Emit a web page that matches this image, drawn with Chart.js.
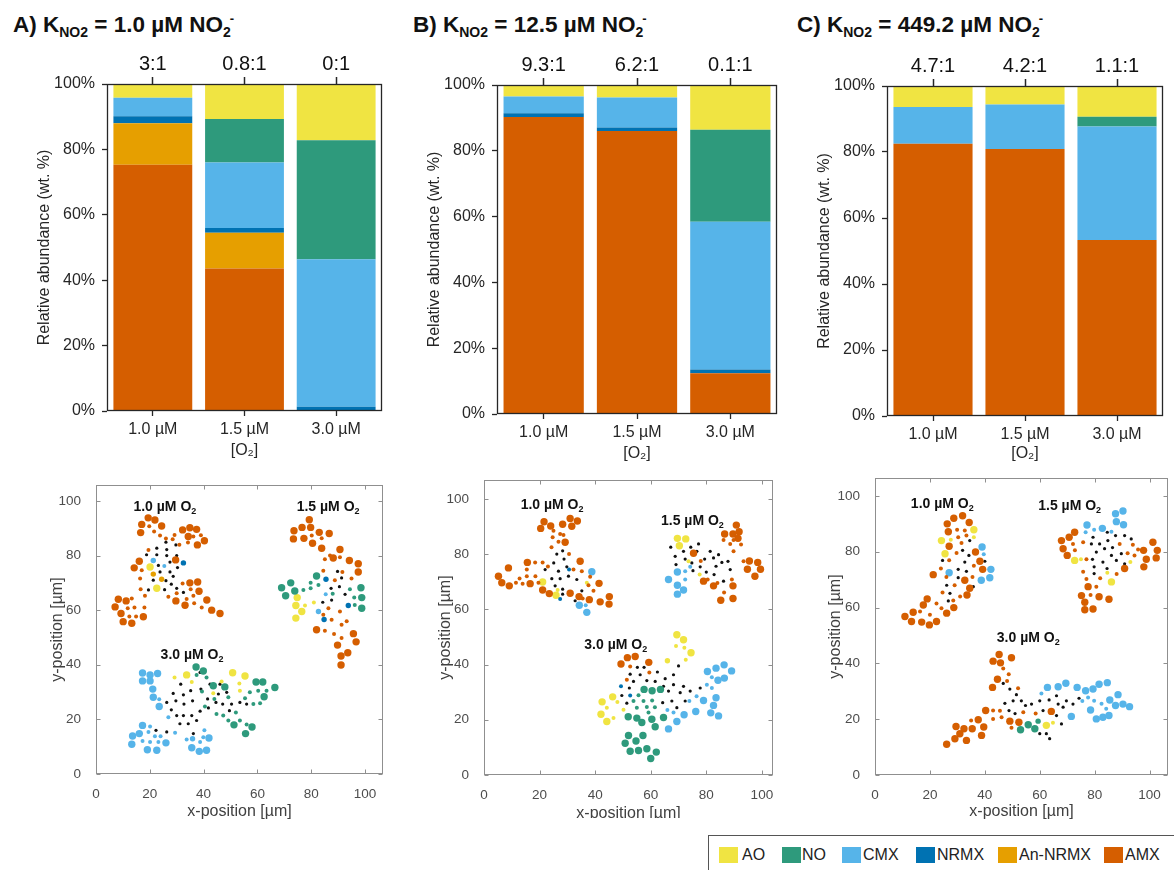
<!DOCTYPE html>
<html>
<head>
<meta charset="utf-8">
<script src="https://cdn.jsdelivr.net/npm/chart.js@4.4.1/dist/chart.umd.min.js"></script>
<style>
  body { margin: 0; background: #fff; font-family: 'Liberation Sans', Arial, sans-serif; }
  #page { position: relative; width: 1174px; height: 870px; overflow: hidden; background: #fff; }
  .ttl { position: absolute; top: 14px; font-weight: bold; font-size: 22.5px; line-height: 22px; color: #111; white-space: nowrap; }
  .ttl .lo { font-size: 14px; position: relative; top: 5px; }
  .ttl .hi { font-size: 13px; position: relative; top: -9px; margin-left: -1px; }
  .wrap { position: absolute; overflow: hidden; }
  .legend { position: absolute; left: 708px; top: 835px; width: 480px; height: 50px; border: 1px solid #555; }
  .sw { position: absolute; top: 847px; width: 19px; height: 16px; }
  .lt { position: absolute; top: 846px; font-size: 16px; line-height: 18px; color: #222; }
</style>
</head>
<body>
<div id="page">
  <div class="ttl" style="left:13px">A) K<span class="lo">NO2</span> = 1.0 µM NO<span class="lo">2</span><span class="hi">-</span></div>
  <div class="ttl" style="left:413px">B) K<span class="lo">NO2</span> = 12.5 µM NO<span class="lo">2</span><span class="hi">-</span></div>
  <div class="ttl" style="left:797px">C) K<span class="lo">NO2</span> = 449.2 µM NO<span class="lo">2</span><span class="hi">-</span></div>

  <div class="wrap" style="left:20px;top:40px;width:370px;height:425px"><canvas id="barA" width="370" height="425"></canvas></div>
  <div class="wrap" style="left:410px;top:40px;width:375px;height:425px"><canvas id="barB" width="375" height="425"></canvas></div>
  <div class="wrap" style="left:800px;top:40px;width:370px;height:425px"><canvas id="barC" width="370" height="425"></canvas></div>

  <div class="wrap" style="left:40px;top:470px;width:350px;height:352px"><canvas id="mapA" width="350" height="352"></canvas></div>
  <div class="wrap" style="left:425px;top:465px;width:355px;height:353px"><canvas id="mapB" width="355" height="358"></canvas></div>
  <div class="wrap" style="left:815px;top:463px;width:359px;height:358px"><canvas id="mapC" width="359" height="358"></canvas></div>

  <div class="legend"></div>
  <div id="legendItems"></div>
</div>

<script>
// ---- community composition (wt. %) per O2 level ----
const o2Levels = ['1.0 µM', '1.5 µM', '3.0 µM'];
const ratiosA = ['3:1', '0.8:1', '0:1'];
const ratiosB = ['9.3:1', '6.2:1', '0.1:1'];
const ratiosC = ['4.7:1', '4.2:1', '1.1:1'];

const amxA  = [75.3, 43.6, 0];
const anA   = [12.7, 10.9, 0];
const nrmxA = [2.1, 1.5, 1.3];
const cmxA  = [5.7, 20.0, 45.1];
const noA   = [0, 13.3, 36.4];
const aoA   = [4.2, 10.7, 17.2];

const amxB  = [90.3, 86.0, 12.4];
const anB   = [0, 0, 0];
const nrmxB = [1.1, 1.1, 1.1];
const cmxB  = [5.1, 9.1, 44.9];
const noB   = [0, 0, 28.0];
const aoB   = [3.5, 3.8, 13.6];

const amxC  = [82.5, 80.9, 53.3];
const anC   = [0, 0, 0];
const nrmxC = [0, 0, 0];
const cmxC  = [11.1, 13.5, 34.4];
const noC   = [0, 0, 3.0];
const aoC   = [6.4, 5.6, 9.3];

const legendNames = ['AO', 'NO', 'CMX', 'NRMX', 'An-NRMX', 'AMX'];

// ---- granule snapshots: [type, x µm, y µm, size class] ----
// R=AMX, A=An-NRMX, N=NRMX, C=CMX, G=NO, Y=AO, K=inert
const cellsA = [
  // 1.0 µM O2
  ['R',19.4,93.8,3],['R',21.9,93,3],['R',17,91.4,3],['R',24.4,90.8,3],['R',16.6,88.4,3],['R',32.2,89.4,3],['R',34.9,90.2,3],
  ['R',37.4,89.6,3],['R',34.3,87,3],['R',40.3,85.4,3],['R',37.7,83.9,3],['R',29.6,78.4,3],['R',16.1,77.9,3],['R',14.2,75.5,3],
  ['R',37.8,70.3,3],['R',34.9,70,3],['R',38.3,66.9,3],['R',8.3,64,3],['R',11.2,63.4,3],['R',41.2,63.7,3],['R',7.1,61.2,3],
  ['R',9.3,58.8,3],['R',10.1,55.8,3],['R',13.3,55.2,3],['R',17.6,57.6,3],['R',29.7,63.4,3],['R',33.1,61.8,3],['R',43,60,3],['R',46.1,58.8,3],
  ['R',19.8,90.7,1],['R',21.6,88.8,1],['R',23.8,87.3,1],['R',26,86.2,1],['R',29.2,87.5,1],['R',36.2,87,1],['R',39,87.4,1],
  ['R',34.2,84.8,1],['R',31,84,1],['R',17,74.6,1],['R',16.4,71.6,1],['R',16.6,67.7,1],['R',18.2,65.3,1],['R',18,61,1],
  ['R',13.3,64.3,1],['R',11.8,60.7,1],['R',14.3,61,1],['R',12.4,57.7,1],['R',14.9,57.7,1],['R',26.9,64.9,1],['R',30,66.2,1],
  ['R',32.2,69.8,1],['R',35.2,67.7,1],['R',36.2,65.3,1],['R',33.7,64.1,1],['R',36.5,62.5,1],['R',39.3,61,1],['R',19.5,82,1],['R',28.5,86,1],
  ['K',26,84.9,1],['K',29.7,83.9,1],['K',22.6,82.7,1],['K',26.3,82.2,1],['K',18.8,80.3,1],['K',22.6,80.3,1],['K',26.3,80,1],
  ['K',30,80,1],['K',16.4,77.6,1],['K',23.2,76.4,1],['K',27.5,77.6,1],['K',30.3,75.6,1],['K',23.8,74,1],['K',27.5,74,1],
  ['K',28.7,72.4,1],['K',21.3,71,1],['K',26,70.8,1],['K',28,69.5,1],['K',19.5,67.4,1],['K',25.5,67.5,1],['K',30,68,1],['K',32.5,66.5,1],
  ['C',21.3,78.2,2],['C',25.4,76.2,1],['Y',20.1,75.8,3],['Y',22.6,68,3],['N',32.5,77.3,2],['A',21.3,73.2,2],['A',24.4,71.3,2],
  // 1.5 µM O2
  ['R',79.3,93.1,3],['R',76.6,90.3,3],['R',79.8,90.3,3],['R',73.6,89.1,3],['R',83,88.5,3],['R',86.7,88.1,3],['R',73.4,86.1,3],
  ['R',77.3,86.3,3],['R',80.5,84.5,3],['R',83.9,82.7,3],['R',90.7,82.2,3],['R',88.2,79.1,3],['R',94.2,78.2,3],['R',97.5,77,3],
  ['R',97.5,74,3],['R',82,52.8,3],['R',95.7,51.4,3],['R',96.7,48.4,3],['R',89.8,47.2,3],['R',93.6,44.4,3],['R',91.1,43.2,3],['R',91.1,39.9,3],
  ['R',80.2,87.3,1],['R',83.9,86.3,1],['R',87,80,1],['R',85.1,78.6,1],['R',90.7,79.4,1],['R',84.5,74.4,1],['R',91.6,74,1],
  ['R',95,71.6,1],['R',88.8,71,1],['R',85.1,52.5,1],['R',91.3,54.7,1],['R',88.5,51.3,1],['R',91.3,49.8,1],['R',84.5,58.3,1],
  ['R',87.6,56.5,1],['R',93.2,55.9,1],['R',86.4,60.7,1],['R',90.7,59.5,1],
  ['G',69,68.2,3],['G',72.4,70,3],['G',70.5,65.3,3],['G',73.9,67,3],['G',82,72.5,3],['G',98.5,68.2,3],['G',98.8,64.6,3],['G',98.8,60.7,3],
  ['G',77.1,67.4,1],['G',79.8,68,1],['G',79.8,70,1],['G',82.7,69.2,1],['G',94.4,67.7,1],['G',96.2,61.9,1],['G',96,64.6,1],['G',88,66,1],
  ['Y',74.8,64.6,3],['Y',74.3,61.7,3],['Y',76.5,59.5,3],['Y',74.3,57.1,3],['Y',77.7,61.7,1],['Y',81,62.8,1],
  ['N',85.5,71.3,2],['N',93.8,61.7,2],['N',84.8,56.6,2],['C',85.4,65.8,1],['C',82.7,59.5,2],
  ['K',89.8,74.2,1],['K',91.3,71.8,1],['K',87.4,68,1],['K',90.5,68.6,1],['K',92.6,65.8,1],['K',87.6,63.7,1],['K',84.3,62.9,1],
  // 3.0 µM O2
  ['C',17.3,37,3],['C',20.1,36.3,3],['C',22.9,36.8,3],['C',17.3,34.1,3],['C',20.1,34.1,3],['C',21.1,31.1,3],['C',21.3,28.1,3],
  ['C',23.5,24.7,3],['C',17.3,17.8,3],['C',16.1,14.8,3],['C',13.6,13.9,3],['C',13.3,10.9,3],['C',19.1,8.9,3],['C',22.6,8.7,3],
  ['C',26,11.4,3],['C',35.6,9.6,3],['C',38.4,8.3,3],['C',41.1,8.7,3],['C',42,13.2,3],
  ['C',23.5,27.4,1],['C',26.9,20.8,1],['C',29.4,15.1,1],['C',20.1,17.4,1],['C',19.5,15.4,1],['C',21.9,13.8,1],['C',24,13.8,1],
  ['C',20.1,11.7,1],['C',23.2,11.7,1],['C',17.3,12.1,1],['C',33.7,12.6,1],['C',38.7,11.7,1],['C',40.3,16,1],['C',39.9,13.5,1],['C',35.9,12.9,2],
  ['K',26.3,26.2,1],['K',28.7,29.5,1],['K',31.5,32.9,1],['K',29.7,26.8,1],['K',32.5,29,1],['K',35.2,30.5,1],['K',32.7,25.6,1],
  ['K',35.9,26.8,1],['K',30,21.4,1],['K',32.5,21.4,1],['K',35.6,21.4,1],['K',38.7,23,1],['K',31.2,18.4,1],['K',34.3,18.4,1],
  ['K',37.4,19.6,1],['K',36.2,14.8,1],['K',22.3,16,1],['K',26.3,15.4,1],['K',38.7,37.2,1],['K',42.4,32.9,1],['K',45.5,29.3,1],
  ['K',46.1,32.9,1],['K',48.6,29.9,1],['K',44.6,26.2,1],['K',47.1,25.6,1],['K',50.4,25.6,1],['K',53.5,26.2,1],['K',56,25.6,1],
  ['K',49.6,23.2,1],['K',39,31.1,1],['K',28,23.5,1],['K',41.5,27.5,1],['K',41.8,24.2,1],
  ['G',37.2,39.2,3],['G',39.9,37.7,3],['G',47.9,31.9,3],['G',59.5,33.7,3],['G',62,33.7,3],['G',66.5,31.7,3],['G',62.5,28.3,3],
  ['G',58,17.2,3],['G',55.6,14.8,3],['G',51.3,18,3],['G',43.6,32.3,3],
  ['G',37.4,36.3,1],['G',41.1,35.3,1],['G',39.4,30.2,1],['G',40.5,24.7,1],['G',44.8,22,1],['G',47.3,21.4,1],['G',49.2,19.6,1],
  ['G',53.5,19.6,1],['G',56,18.1,1],['G',49.2,28.1,1],['G',55.4,27.7,1],['G',57.2,29.9,1],['G',60.3,30.5,1],['G',63.4,30.5,1],
  ['G',58.5,25.6,1],['G',61,25.9,1],['G',52,22.5,1],['G',44,27.5,1],
  ['Y',33.7,36.3,3],['Y',50.8,37.1,3],['Y',55.4,35.9,3],['Y',29.2,35.3,1],['Y',35.6,33.7,1],['Y',46.7,33.9,1],['Y',53.3,33.1,1],
  ['Y',53.5,30.5,1],['Y',43.6,29.6,1]
];

const cellsB = [
  // 1.0 µM O2
  ['R',21.6,91.7,3],['R',20.4,89.3,3],['R',24,90.2,3],['R',28.3,90.8,3],['R',31,92.9,3],['R',31.6,90.1,3],['R',33.6,92,3],
  ['R',29.2,84.3,3],['R',34.6,77.4,3],['R',41.4,69.4,3],['R',37.9,63.5,3],['R',41.8,62.7,3],['R',45,61.9,3],['R',45.1,64.6,3],
  ['R',34.2,64.6,3],['R',31,65.8,3],['R',5.2,72,3],['R',6.4,69.6,3],['R',8.8,75,3],['R',9.1,68.5,3],['R',15.6,77,3],
  ['R',16.6,69.3,3],['R',21.1,67,3],['R',23.5,65.7,3],
  ['R',25,88.5,1],['R',27.4,87.3,1],['R',24.7,86.1,1],['R',28.6,86.9,1],['R',26.8,84.5,1],['R',24.3,82.5,1],['R',21.1,77,1],
  ['R',30.6,80,1],['R',32.2,74.4,1],['R',35.2,73.8,1],['R',38.2,71.8,1],['R',37.6,68.7,1],['R',39.4,66.7,1],['R',35.5,63.9,1],
  ['R',11.5,69.6,1],['R',12.8,71.2,1],['R',15.4,72,1],['R',13.9,69.3,1],['R',18.4,77,1],['R',15.4,74.4,1],['R',19.6,69.6,1],
  ['R',23,75.5,1],['R',18.5,72,1],
  ['K',26.2,80,1],['K',28.3,81.2,1],['K',28.8,78.2,1],['K',22,74.4,1],['K',25.1,76.8,1],['K',26.8,73.8,1],['K',29.8,75.4,1],
  ['K',24.4,71.1,1],['K',27.4,71.1,1],['K',30.4,72,1],['K',33.4,70.8,1],['K',25.6,68.5,1],['K',28.3,67.3,1],['K',35.2,66.7,1],
  ['K',28.3,65.5,1],['K',32.8,63.1,1],
  ['Y',21.1,69.9,3],['Y',25.9,65.1,3],['Y',26.5,67,1],['Y',37,69.6,1],['N',27.4,63.7,1],['N',30.6,74.4,1],
  ['C',38.8,73.6,3],['C',34.3,61.5,3],['C',37,58.9,3],['C',36.6,61.5,1],
  // 1.5 µM O2
  ['Y',69.6,85.7,3],['Y',72.6,85.5,3],['Y',70.3,83,3],['Y',73.6,77.4,1],['Y',77.6,72.6,1],
  ['K',67.2,82.5,1],['K',71.8,81,1],['K',74.4,82.5,1],['K',77.2,83.7,1],['K',76.6,81,1],['K',79.4,78.2,1],['K',81.4,81,1],
  ['K',82.6,78.6,1],['K',84.4,79.8,1],['K',85.6,77,1],['K',87.8,77.4,1],['K',88.6,74.4,1],['K',68.8,79.2,1],['K',69.1,76.2,1],
  ['K',72.4,78.2,1],['K',74.8,76.8,1],['K',75.2,74,1],['K',77.8,75.4,1],['K',80,73.5,1],['K',83.5,75.6,1],['K',82.8,72.6,1],['K',86.2,70.2,1],
  ['R',75.4,80.3,3],['R',79,70.2,3],['R',82.6,68.5,3],['R',89.6,68.5,3],['R',89.6,63.9,3],['R',85.2,63.3,3],['R',86.6,87.3,3],
  ['R',89.6,87.3,3],['R',90.8,90.5,3],['R',91.8,88.1,3],['R',91.4,85.7,3],['R',95.5,77.5,3],['R',94.8,74.5,3],['R',98.5,77,3],
  ['R',99.5,74.5,3],['R',97.5,72,3],
  ['R',89.2,70.8,1],['R',86.4,66.1,1],['R',89.8,85.1,1],['R',88.6,83.7,1],['R',86.2,85.1,1],['R',89.8,81,1],['R',93.4,77.4,1],
  ['R',92.5,83.5,1],['R',78,77.5,1],['R',80.5,70.8,1],['R',84,69.5,1],
  ['C',66.4,70.8,3],['C',69.6,73.5,3],['C',69.6,68.7,3],['C',71.8,67,3],['C',69.6,65.5,3],['C',72.4,73.8,1],['C',74.2,75.4,1],['C',72.4,70.8,1],
  // 3.0 µM O2
  ['Y',69.4,50.8,3],['Y',71.8,49,3],['Y',74.5,44.3,3],['Y',42.5,26.5,3],['Y',46.3,28.3,3],['Y',42.1,22,3],['Y',44.2,19.4,3],
  ['Y',66,41.4,2],['Y',69.1,46.7,1],['Y',72.1,46.1,1],['Y',72.6,41.7,1],['Y',44.2,24.4,1],['Y',48,26.4,1],['Y',50.2,23.6,1],['Y',46.6,20.6,1],
  ['R',49.3,40.2,3],['R',51.6,42.5,3],['R',54.4,42.9,3],['R',59.3,40.8,3],['R',52.6,39.3,1],['R',51.4,34.5,1],['R',59.5,37.1,1],
  ['K',55.2,39,1],['K',57.6,39,1],['K',52.6,36.5,1],['K',56.2,36.3,1],['K',53.8,33.9,1],['K',58.6,34.2,1],['K',62.4,37.3,1],
  ['K',65.2,34.9,1],['K',68.2,36.3,1],['K',70,39.5,1],['K',61.6,33.9,1],['K',64.6,32.1,1],['K',68.2,32.7,1],['K',71.8,32.1,1],
  ['K',66.4,30.4,1],['K',70.6,29.8,1],['K',74.2,30.4,1],['K',77.8,31.5,1],['K',52.3,31.5,1],['K',49.6,28.8,1],['K',51.4,26,1],
  ['K',64.3,26.2,1],['K',67.6,26.8,1],['K',72.4,26.8,1],['K',69.4,24.4,1],
  ['N',49.3,32.1,1],['N',52.6,28.8,1],
  ['G',60.5,30.5,3],['G',63.5,31,3],['G',57.6,31,3],['G',51.9,21.1,3],['G',55,20.6,3],['G',60.4,20.2,3],['G',64.6,20.8,3],
  ['G',61.6,17.5,3],['G',56.8,19,3],['G',52,14.3,3],['G',50.8,11.5,3],['G',54.7,12.3,3],['G',57.2,14.3,3],['G',52.6,8.6,3],
  ['G',55.6,8.9,3],['G',58.6,9.5,3],['G',62,8.3,3],['G',60,6,3],
  ['G',55.6,28.9,1],['G',53.8,26.8,1],['G',57.4,26.8,1],['G',55,24.4,1],['G',58.6,24.6,1],['G',59.2,22.6,1],['G',61.5,24.5,1],['G',60.5,27,1],
  ['C',80.4,37.5,3],['C',83.5,38.7,3],['C',86.4,39.9,3],['C',89.1,37.7,3],['C',86.5,35.1,3],['C',84.2,34.3,3],['C',83.5,28,3],
  ['C',79,27,3],['C',82.6,25.2,3],['C',84.4,21.4,3],['C',81.6,22.5,3],['C',76.2,23,3],['C',72,21.8,3],['C',69.4,19.4,3],['C',66.4,16.7,3],
  ['C',82,35.4,1],['C',80.2,32.7,1],['C',82,31.5,1],['C',73.9,26.8,1],['C',68.2,22.6,1],['C',66,23.5,1],['C',76.5,28.5,1]
];

const cellsC = [
  // 1.0 µM O2
  ['R',28.7,92,3],['R',31.9,92.9,3],['R',26.3,90,3],['R',34.3,90.5,3],['R',26.7,87.2,3],['R',27,82,3],['R',36.6,79.9,3],
  ['R',38.2,76.6,3],['R',21.2,71.8,3],['R',32.7,69.8,3],['R',34.5,66.9,3],['R',33.5,64.5,3],['R',26.1,58,3],['R',28.7,60,3],
  ['R',39.2,73.7,3],['R',10.9,56.8,3],['R',13.9,58.3,3],['R',13.3,55,3],['R',17,54.8,3],['R',19.8,53.8,3],['R',22.4,55,3],
  ['R',19,63.1,3],['R',17.6,60.9,3],
  ['R',29.9,87.9,1],['R',32.7,87.6,1],['R',30.3,85.2,1],['R',33.3,85.8,1],['R',31.5,83.1,1],['R',29.7,79.6,1],['R',24,74,1],
  ['R',24.6,65.4,1],['R',16.4,58.6,1],['R',20,57.4,1],['R',22.4,61.5,1],['R',24.2,59.8,1],['R',27,77,1],['R',29,68,1],
  ['R',26,71,1],['R',31,64,1],['R',28.5,62.5,1],['R',36,75,1],['R',35.5,71,1],
  ['Y',24.2,84,3],['Y',36,87.9,3],['Y',25.5,79.3,3],['Y',27.6,84.3,1],['Y',36,85.2,1],
  ['C',39,81.7,3],['C',42.2,73.7,3],['C',41.8,70.7,3],['C',38.7,69.8,3],['C',27,72.5,3],['C',39.6,79.1,1],
  ['K',34.5,84,1],['K',31.9,80.5,1],['K',34.2,78.7,1],['K',40,76.6,1],['K',24.6,76.9,1],['K',32.7,76.3,1],['K',30.3,73.7,1],
  ['K',33.3,73,1],['K',30.3,70.7,1],['K',26.1,68,1],['K',35.8,67.5,1],['K',27.3,65.1,1],['K',26.7,62.4,1],
  // 1.5 µM O2
  ['C',87.6,93.6,3],['C',90.3,94.6,3],['C',87.9,90.8,3],['C',90.5,89.7,3],['C',77.2,89.6,3],['C',82.8,88.4,3],
  ['C',79.8,87.9,1],['C',86.1,87.2,1],['C',76.7,87,1],
  ['K',79.4,85.2,1],['K',84.6,87,1],['K',78.8,82.8,1],['K',81.8,82.8,1],['K',84.8,84,1],['K',87.6,85.8,1],['K',90.9,85.8,1],
  ['K',93.3,84.6,1],['K',80.6,79.9,1],['K',83.6,81.1,1],['K',89.7,79.3,1],['K',79.2,77.3,1],['K',86.1,78.7,1],['K',87.9,76.9,1],
  ['K',90.9,75.7,1],['K',79.8,74.6,1],['K',83,76.3,1],['K',79.8,72.2,1],['K',86.5,81.5,1],['K',84.5,74,1],
  ['R',67.9,84,3],['R',70.7,85.2,3],['R',72.7,87,3],['R',68.5,81.1,3],['R',70,78.7,3],['R',90.9,74,3],['R',97.8,80.5,3],
  ['R',101.2,83.4,3],['R',102.8,80.5,3],['R',102.4,77.8,3],['R',98.8,77.3,3],['R',97.9,74.6,3],['R',77.6,67.5,3],['R',75.2,64.3,3],
  ['R',81.6,63.9,3],['R',85.2,63,3],['R',76.4,61.9,3],['R',76.4,59.2,3],['R',79.4,59.5,3],
  ['R',72.1,82.8,1],['R',72.8,80.5,1],['R',75.8,83.4,1],['R',77,77.3,1],['R',89.1,82.8,1],['R',95.8,80.8,1],['R',93.9,82.5,1],
  ['R',94.5,78.7,1],['R',75.8,72.8,1],['R',77,70.2,1],['R',80.6,67.5,1],['R',82,70.5,1],['R',78.5,64.5,1],['R',88,72,1],['R',92,79.5,1],
  ['Y',72.7,76.9,3],['Y',86.1,69.2,3],['Y',75,77.3,1],['Y',84.6,72.5,1],['Y',93,76.3,1],
  // 3.0 µM O2
  ['R',45.2,43.2,3],['R',43,40.8,3],['R',45.7,40.2,3],['R',49.7,42,3],['R',44.6,34.3,3],['R',42.8,31.4,3],['R',26.1,11,3],
  ['R',29.1,13,3],['R',33.3,12.4,3],['R',30.9,14.8,3],['R',29.5,17.4,3],['R',32.4,16.6,3],['R',35.4,16.6,3],['R',38.8,14.2,3],
  ['R',37.6,19.8,3],['R',39.6,17.2,3],['R',40.3,23.1,3],['R',49.1,19.3,3],['R',52.4,18.9,3],['R',64.2,22.8,3],
  ['R',46.7,38.2,1],['R',48.7,36.1,1],['R',48.1,33.7,1],['R',52.1,31.1,1],['R',43,23.1,1],['R',43,20.1,1],['R',46.1,20.7,1],
  ['R',49.7,16.9,1],['R',35,19.5,1],['R',45.5,23,1],['R',58.5,22,1],['R',54,22.5,1],
  ['K',46.7,32.8,1],['K',49.1,30.8,1],['K',51.5,28.8,1],['K',47.3,25.7,1],['K',50.3,26.6,1],['K',53.3,26.6,1],['K',48.8,23.1,1],
  ['K',54.8,24.9,1],['K',57,25.4,1],['K',60,26.6,1],['K',63.4,26.9,1],['K',66.1,28.4,1],['K',66.7,25.4,1],['K',69.7,26.6,1],
  ['K',72.1,25.4,1],['K',74.3,27.5,1],['K',68.5,24.3,1],['K',66.1,21.3,1],['K',61.2,23.1,1],['K',60,14.8,1],['K',62.4,14.8,1],
  ['K',63.6,13,1],['K',67.9,18.3,1],['K',51,22,1],
  ['G',53,16.2,3],['G',55.8,18,3],['G',58.2,16.6,3],['G',59.4,19.3,2],
  ['Y',62.4,17.8,3],['Y',64.8,18.7,1],
  ['C',62.8,31.4,3],['C',66.7,31.6,3],['C',69.5,32.9,3],['C',73.6,31.4,3],['C',71.5,21,3],['C',76.7,30.2,3],['C',79.4,30.8,3],
  ['C',81.6,32.5,3],['C',84.6,33.1,3],['C',78.5,23.3,3],['C',80.6,20.1,3],['C',83,20.7,3],['C',85.5,26.9,3],['C',88.5,28.8,3],
  ['C',87.6,24.9,3],['C',90.3,25.4,3],['C',92.7,24.5,3],['C',85.2,21.3,3],
  ['C',60.6,29.2,1],['C',77.6,27.8,1],['C',79.8,26.6,1],['C',84.2,23.7,1],['C',75.5,26.5,1],['C',82.5,25.5,1]
];

// granule name tags [text, x, y]
const tagsA = [['1.0 µM O', 25.6, 98.2], ['1.5 µM O', 86.3, 98.2], ['3.0 µM O', 35.7, 44]];
const tagsB = [['1.0 µM O', 24.5, 98.2], ['1.5 µM O', 75, 92.3], ['3.0 µM O', 47.4, 47.6]];
const tagsC = [['1.0 µM O', 24.5, 97.5], ['1.5 µM O', 70.9, 96.6], ['3.0 µM O', 55.8, 49.6]];

// ---- styling ----
const FONT = "'Liberation Sans', Arial, sans-serif";
const colors = {
  AO: '#F0E442', NO: '#2E9A7C', CMX: '#56B4E9', NRMX: '#0072B2', 'An-NRMX': '#E69F00', AMX: '#D55E00'
};
const cellColor = { R: colors.AMX, A: colors['An-NRMX'], N: colors.NRMX, C: colors.CMX, G: colors.NO, Y: colors.AO, K: '#111111' };
const dotRadius = { 1: 2.0, 2: 2.7, 3: 3.7 };

// box around the plot area; optional inward ticks like the map panels
const frame = {
  id: 'frame',
  afterDatasetsDraw(chart, args, opts) {
    const { ctx, chartArea: a } = chart;
    const l = Math.round(a.left) + 0.5, t = Math.round(a.top) + 0.5;
    const r = Math.round(a.right) - 0.5, b = Math.round(a.bottom) - 0.5;
    ctx.save();
    ctx.strokeStyle = opts.color;
    ctx.lineWidth = opts.width;
    ctx.strokeRect(l, t, r - l, b - t);
    if (opts.inner) {
      const len = opts.inner;
      ctx.beginPath();
      chart.scales.x.ticks.forEach(tk => {
        const px = Math.round(chart.scales.x.getPixelForValue(tk.value)) + 0.5;
        ctx.moveTo(px, b); ctx.lineTo(px, b - len);
        ctx.moveTo(px, t); ctx.lineTo(px, t + len);
      });
      chart.scales.y.ticks.forEach(tk => {
        const py = Math.round(chart.scales.y.getPixelForValue(tk.value)) + 0.5;
        ctx.moveTo(l, py); ctx.lineTo(l + len, py);
        ctx.moveTo(r, py); ctx.lineTo(r - len, py);
      });
      ctx.stroke();
    }
    ctx.restore();
  }
};

// bold tag with subscript 2 placed at data coordinates
const granuleTags = {
  id: 'granuleTags',
  afterDatasetsDraw(chart, args, opts) {
    const { ctx, scales } = chart;
    ctx.save();
    ctx.fillStyle = '#111';
    ctx.textBaseline = 'alphabetic';
    opts.items.forEach(([text, x, y]) => {
      ctx.font = 'bold 14px ' + FONT;
      const w1 = ctx.measureText(text).width;
      ctx.font = 'bold 9px ' + FONT;
      const w2 = ctx.measureText('2').width;
      const px = scales.x.getPixelForValue(x) - (w1 + w2) / 2;
      const py = scales.y.getPixelForValue(y) + 5;
      ctx.font = 'bold 14px ' + FONT;
      ctx.fillText(text, px, py);
      ctx.font = 'bold 9px ' + FONT;
      ctx.fillText('2', px + w1, py + 3);
    });
    ctx.restore();
  }
};

function barPanel(id, series, ratios, g) {
  const order = [['AMX', series.amx], ['An-NRMX', series.an], ['NRMX', series.nrmx], ['CMX', series.cmx], ['NO', series.no], ['AO', series.ao]];
  const ink = '#262626';
  new Chart(document.getElementById(id), {
    type: 'bar',
    data: {
      labels: o2Levels,
      datasets: order.map(([name, vals]) => ({
        label: name, data: vals, backgroundColor: colors[name], borderWidth: 0,
        categoryPercentage: 1, barPercentage: 0.86
      }))
    },
    options: {
      responsive: false, animation: false, events: [],
      layout: { padding: { left: 0, top: 0, right: g.padRight, bottom: 0 } },
      plugins: { legend: { display: false }, tooltip: { enabled: false }, frame: { color: ink, width: 1.3 } },
      scales: {
        x: {
          stacked: true, position: 'bottom',
          grid: { display: true, drawOnChartArea: false, offset: false, tickLength: 5, color: ink, tickWidth: 1.3 },
          border: { display: false },
          ticks: { color: ink, font: { family: FONT, size: 16 }, padding: 4 },
          title: { display: true, text: '[O₂]', color: ink, font: { family: FONT, size: 16 }, padding: { top: 0, bottom: g.titlePad } },
          afterFit: s => { s.height = g.bottomH; }
        },
        xTop: {
          type: 'category', position: 'top', labels: ratios, offset: true,
          grid: { display: true, drawOnChartArea: false, offset: false, tickLength: 7, color: ink, tickWidth: 1.5 },
          border: { display: false },
          ticks: { color: '#111', font: { family: FONT, size: 20 }, padding: 1 },
          afterFit: s => { s.height = g.topH; }
        },
        y: {
          stacked: true, min: 0, max: 100,
          grid: { display: true, drawOnChartArea: false, tickLength: 5, color: ink, tickWidth: 1.3 },
          border: { display: false },
          ticks: { stepSize: 20, color: ink, font: { family: FONT, size: 16 }, padding: 7, callback: v => v + '%' },
          title: { display: true, text: 'Relative abundance (wt. %)', color: ink, font: { family: FONT, size: 16 }, padding: { top: 14.6, bottom: 0 } },
          afterFit: s => { s.width = g.leftW; }
        }
      }
    },
    plugins: [frame]
  });
}

function mapPanel(id, cells, tags, g) {
  const types = ['R', 'A', 'N', 'C', 'G', 'Y', 'K'];
  const axisInk = '#4d4d4d';
  const titleFont = { family: FONT, size: 16 };
  new Chart(document.getElementById(id), {
    type: 'scatter',
    data: {
      datasets: types.map(tp => ({
        data: cells.filter(c => c[0] === tp).map(c => ({ x: c[1], y: c[2], s: c[3] })),
        backgroundColor: cellColor[tp],
        borderWidth: 0,
        pointRadius: ctx => (tp === 'K' ? 1.6 : (ctx.raw ? dotRadius[ctx.raw.s] : 2))
      }))
    },
    options: {
      responsive: false, animation: false, events: [],
      layout: { padding: { left: 0, top: g.padTop, right: g.padRight, bottom: 0 } },
      plugins: {
        legend: { display: false }, tooltip: { enabled: false },
        frame: { color: '#8f8f8f', width: 1, inner: 4 },
        granuleTags: { items: tags }
      },
      scales: {
        x: {
          type: 'linear', min: 0, max: g.xMax,
          grid: { display: false }, border: { display: false },
          ticks: { stepSize: 20, includeBounds: false, color: axisInk, font: { family: FONT, size: 13.5 }, padding: 4 },
          title: { display: true, text: 'x-position [µm]', color: '#404040', font: titleFont, padding: { top: 0, bottom: g.titlePad } },
          afterFit: s => { s.height = g.bottomH; }
        },
        y: {
          type: 'linear', min: 0, max: g.yMax,
          grid: { display: false }, border: { display: false },
          ticks: { stepSize: 20, includeBounds: false, color: axisInk, font: { family: FONT, size: 13.5 }, padding: 7 },
          title: { display: true, text: 'y-position [µm]', color: '#404040', font: titleFont, padding: { top: g.yTitlePad, bottom: 0 } },
          afterFit: s => { s.width = g.leftW; }
        }
      }
    },
    plugins: [frame, granuleTags]
  });
}

barPanel('barA', { amx: amxA, an: anA, nrmx: nrmxA, cmx: cmxA, no: noA, ao: aoA }, ratiosA,
  { leftW: 87, padRight: 8, topH: 44, bottomH: 54, titlePad: 4.6 });
barPanel('barB', { amx: amxB, an: anB, nrmx: nrmxB, cmx: cmxB, no: noB, ao: aoB }, ratiosB,
  { leftW: 87, padRight: 8, topH: 45, bottomH: 51, titlePad: 1.6 });
barPanel('barC', { amx: amxC, an: anC, nrmx: nrmxC, cmx: cmxC, no: noC, ao: aoC }, ratiosC,
  { leftW: 87, padRight: 7, topH: 46, bottomH: 49, titlePad: 1.6 });

mapPanel('mapA', cellsA, tagsA, { leftW: 56, padRight: 7, padTop: 12, bottomH: 48, titlePad: 1, yTitlePad: 8, xMax: 106.7, yMax: 105.8 });
mapPanel('mapB', cellsB, tagsB, { leftW: 59, padRight: 7, padTop: 11, bottomH: 48, titlePad: 0, yTitlePad: 11, xMax: 104, yMax: 106.8 });
mapPanel('mapC', cellsC, tagsC, { leftW: 60, padRight: 6, padTop: 12, bottomH: 46, titlePad: 0, yTitlePad: 11, xMax: 106.7, yMax: 106.4 });

// legend row
const swLeft = [719, 782, 842, 916, 998, 1104];
const txLeft = [742, 802, 863, 937, 1019, 1125];
const holder = document.getElementById('legendItems');
legendNames.forEach((name, i) => {
  const sw = document.createElement('div');
  sw.className = 'sw';
  sw.style.left = swLeft[i] + 'px';
  sw.style.background = colors[name];
  holder.appendChild(sw);
  const tx = document.createElement('div');
  tx.className = 'lt';
  tx.style.left = txLeft[i] + 'px';
  tx.textContent = name;
  holder.appendChild(tx);
});
</script>
</body>
</html>
